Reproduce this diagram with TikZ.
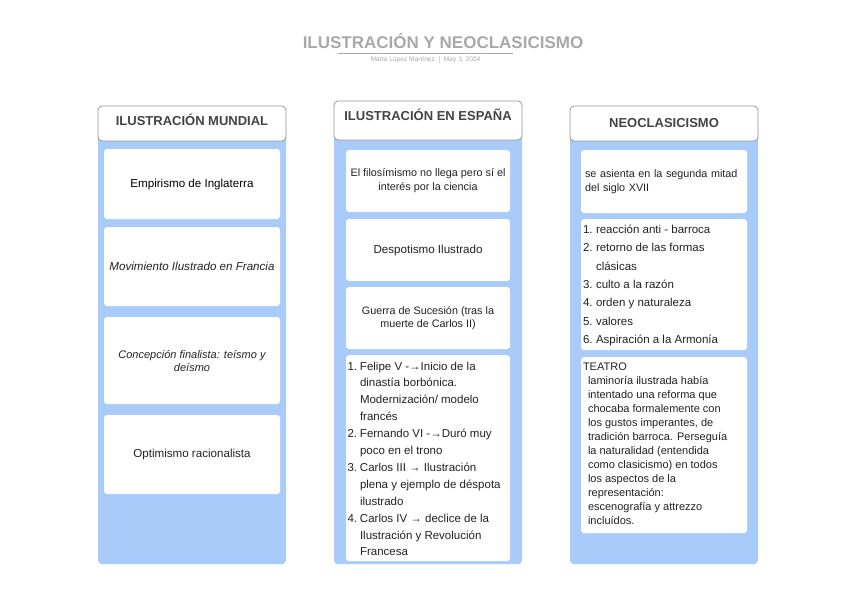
\documentclass[tikz,border=0pt]{standalone}
\usepackage{fontspec}
\setmainfont{Liberation Sans}
\definecolor{panelblue}{RGB}{168,203,250}
\definecolor{headgray}{RGB}{150,150,150}
\definecolor{headtext}{RGB}{68,68,68}
\definecolor{titlegray}{RGB}{168,168,168}
\definecolor{bodytext}{RGB}{34,34,34}
\newcommand{\numB}[1]{\makebox[12.5pt][l]{#1}}
\newcommand{\contB}{\hspace*{12.5pt}}
\newcommand{\numC}[1]{\makebox[13pt][l]{#1}}
\newcommand{\contC}{\hspace*{13pt}}
\begin{document}
\begin{tikzpicture}[x=1pt,y=-1pt,font=\fontsize{11}{14}\selectfont]
    \tikzset{
        head/.style={
            draw=headgray,
            fill=white,
            line width=0.8pt,
            rounded corners=4pt,
            minimum width=188pt,
            text=headtext,
            font=\fontsize{13}{15}\selectfont\bfseries
        },
        panel/.style={fill=panelblue, rounded corners=4pt, minimum width=188pt, inner sep=0pt},
        card/.style={fill=white, rounded corners=3pt, align=center, inner sep=3pt, text=bodytext}
    }
    \useasboundingbox (0,0) rectangle (848,600);

    \node[text=titlegray,font=\fontsize{17}{19}\selectfont\bfseries] (title) at (443,41)
        {ILUSTRACIÓN Y NEOCLASICISMO};
    \coordinate (ruleL) at (338,53);
    \coordinate (ruleR) at (513,53);
    \draw[titlegray,line width=1pt] (ruleL) -- (ruleR);
    \node[text=titlegray,font=\fontsize{6.6}{8}\selectfont] (author) at (425.5,59.5)
        {Marta López Martínez \ | \ May 3, 2024};

    \node[panel,minimum height=444pt,anchor=north] (panA) at (192,120) {};
    \node[panel,minimum height=444pt,anchor=north] (panB) at (428,120) {};
    \node[panel,minimum height=444pt,anchor=north] (panC) at (664,120) {};

    \node[head,minimum height=35pt] (headA) at (192,123.5) {\raisebox{1.5pt}[9pt][2pt]{ILUSTRACIÓN MUNDIAL}};
    \node[head,minimum height=39pt] (headB) at (428,120.5) {\raisebox{4pt}[9pt][2pt]{ILUSTRACIÓN EN ESPAÑA}};
    \node[head,minimum height=35pt] (headC) at (664,123.5) {NEOCLASICISMO};

    \node[card,minimum width=176pt,minimum height=70pt,text=black,font=\fontsize{11.6}{14}\selectfont] (empirismo) at (192,184)
        {Empirismo de Inglaterra};
    \node[card,minimum width=176pt,minimum height=79pt,font=\fontsize{11.6}{14}\selectfont\itshape] (francia) at (192,266.5)
        {Movimiento Ilustrado en Francia};
    \node[card,minimum width=176pt,minimum height=87pt,font=\fontsize{11}{13}\selectfont\itshape] (teismo) at (192,360.5)
        {Concepción finalista: teísmo y\\deísmo};
    \node[card,minimum width=176pt,minimum height=79pt,font=\fontsize{11.6}{14}\selectfont] (optimismo) at (192,454.5)
        {Optimismo racionalista};

    \node[card,minimum width=164pt,minimum height=62pt,font=\fontsize{10.8}{14}\selectfont] (ciencia) at (428,181)
        {El filosímismo no llega pero sí el\\interés por la ciencia};
    \node[card,minimum width=164pt,minimum height=62pt,font=\fontsize{11.6}{14}\selectfont] (despotismo) at (428,250)
        {Despotismo Ilustrado};
    \node[card,minimum width=164pt,minimum height=62pt,font=\fontsize{10.8}{13.5}\selectfont] (sucesion) at (428,318)
        {Guerra de Sucesión (tras la\\muerte de Carlos II)};
    \node[card,anchor=north,inner sep=1.5pt,font=\fontsize{11.5}{16.9}\selectfont] (reyes) at (428,355)
        {\begin{minipage}[t][203pt][t]{161pt}\raggedright
        \vspace*{5pt}
        \numB{1.}Felipe V -→Inicio de la\\
        \contB dinastía borbónica.\\
        \contB Modernización/ modelo\\
        \contB francés\\
        \numB{2.}Fernando VI -→Duró muy\\
        \contB poco en el trono\\
        \numB{3.}Carlos III → Ilustración\\
        \contB plena y ejemplo de déspota\\
        \contB ilustrado\\
        \numB{4.}Carlos IV → declice de la\\
        \contB Ilustración y Revolución\\
        \contB Francesa
        \end{minipage}};

    \node[card,minimum width=166pt,minimum height=63pt,align=left,text width=158pt,font=\fontsize{10.8}{13.5}\selectfont] (siglo) at (664,181.5)
        {se asienta en la segunda mitad\\del siglo XVII};
    \node[card,anchor=north,inner sep=2pt,font=\fontsize{11.5}{18.3}\selectfont] (rasgos) at (664,219)
        {\begin{minipage}[t][127pt][t]{162pt}\raggedright
        \vspace*{4pt}
        \numC{1.}reacción anti - barroca\\
        \numC{2.}retorno de las formas\\
        \contC clásicas\\
        \numC{3.}culto a la razón\\
        \numC{4.}orden y naturaleza\\
        \numC{5.}valores\\
        \numC{6.}Aspiración a la Armonía
        \end{minipage}};
    \node[card,anchor=north,inner sep=2pt,font=\fontsize{11}{14}\selectfont] (teatro) at (664,357)
        {\begin{minipage}[t][172pt][t]{162pt}\raggedright
        \vspace*{4pt}
        TEATRO\\
        \hspace*{5pt}laminoría ilustrada había\\
        \hspace*{5pt}intentado una reforma que\\
        \hspace*{5pt}chocaba formalemente con\\
        \hspace*{5pt}los gustos imperantes, de\\
        \hspace*{5pt}tradición barroca. Perseguía\\
        \hspace*{5pt}la naturalidad (entendida\\
        \hspace*{5pt}como clasicismo) en todos\\
        \hspace*{5pt}los aspectos de la\\
        \hspace*{5pt}representación:\\
        \hspace*{5pt}escenografía y attrezzo\\
        \hspace*{5pt}incluídos.
        \end{minipage}};
\end{tikzpicture}
\end{document}
